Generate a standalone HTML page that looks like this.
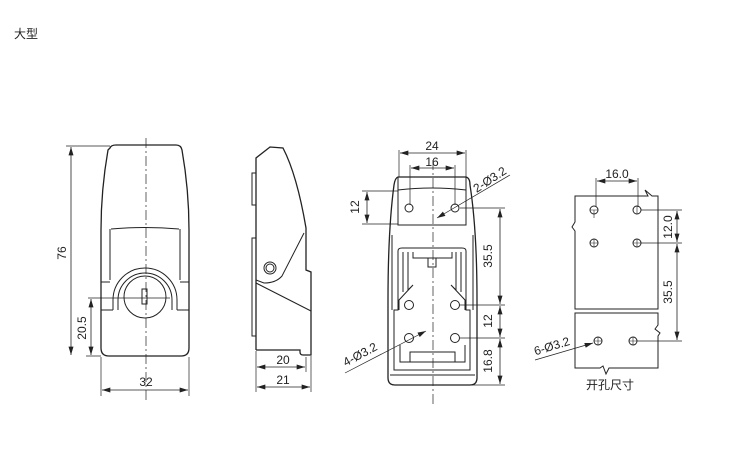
<!DOCTYPE html>
<html><head><meta charset="utf-8"><style>
html,body{margin:0;padding:0;background:#fff;}
svg{display:block}
text{font-family:"Liberation Sans","Noto Sans CJK SC",sans-serif;fill:#222;font-size:12px}
</style></head><body>
<svg width="734" height="460" viewBox="0 0 734 460" xmlns="http://www.w3.org/2000/svg">
<defs>
<marker id="a" viewBox="0 0 10 6" refX="10" refY="3" markerWidth="9" markerHeight="5" orient="auto-start-reverse" markerUnits="userSpaceOnUse"><path d="M0,0L10,3L0,6z" fill="#222"/></marker>
</defs>
<text x="14" y="38" font-size="16">大型</text>
<g fill="none" stroke="#222" stroke-width="1">
<!-- FRONT VIEW -->
<path d="M110,148 Q111,145 116,145 L176,145 Q181,145 182,150 Q189,190 189,230 L189,348 Q189,356 181,356 L109,356 Q101,356 101,348 L101,230 Q101,190 108,150 Z" stroke-width="1.3"/>
<path d="M110,229 L110,280 M180,229 L180,280 M111,229 Q145,226 179,229"/>
<path d="M101,282 L110,282 M180,282 L189,282 M101,310 L113,310 M177,310 L189,310"/>
<path d="M113,310 L113,300 A32,32 0 0 1 177,300 L177,310 M118,310 L118,300 A27,27 0 0 1 172,300 L172,310"/>
<circle cx="145" cy="297" r="21"/>
<rect x="142" y="289" width="5" height="15"/>
<path d="M146,138 L146,402" stroke-dasharray="10,3,2,3" stroke-width="0.7"/>
<path d="M88,298 L170,298" stroke-width="0.7"/>
<path d="M66,146 L110,146 M86,356 L101,356" stroke-width="0.7"/>
<path d="M71,147 L71,355" marker-start="url(#a)" marker-end="url(#a)" stroke-width="0.8"/>
<path d="M91,299 L91,355" marker-start="url(#a)" marker-end="url(#a)" stroke-width="0.8"/>
<path d="M101,357 L101,396 M189,357 L189,396" stroke-width="0.7"/>
<path d="M102,390 L188,390" marker-start="url(#a)" marker-end="url(#a)" stroke-width="0.8"/>
<!-- SIDE VIEW -->
<path d="M256,350 L256,158 L270,147 L283,148 Q297,175 306,228 L306,270 L311,272 L311,355 L303,355 Q300,355 300,352 L300,350 L256,350" stroke-width="1.3"/>
<path d="M252,173 L256,173 L256,205 L252,205 Z M252,238 L256,238 L256,336 L252,336 Z"/>
<path d="M304,233 L282,276 Q276,283 264,283 L256,280 M256,283 L311,311"/>
<circle cx="270" cy="268" r="6"/><circle cx="270" cy="268" r="4"/>
<path d="M256,351 L256,392 M306,357 L306,372 M311,356 L311,392" stroke-width="0.7"/>
<path d="M257,367 L305,367" marker-start="url(#a)" marker-end="url(#a)" stroke-width="0.8"/>
<path d="M257,387 L310,387" marker-start="url(#a)" marker-end="url(#a)" stroke-width="0.8"/>
<!-- BACK VIEW -->
<path d="M398,177 L466,177 Q470,178 470,185 Q477,230 477,300 L477,378 Q477,385 470,385 L395,385 Q388,385 388,378 L388,300 Q388,230 394,185 Q395,178 398,177 Z" stroke-width="1.3"/>
<path d="M398,177 L398,225 L466,225 L466,177 M398,190 Q432,186 466,190"/>
<path d="M392,235 L392,310 M473,235 L473,310"/>
<path d="M398,251 Q398,248 402,248 L462,248 Q466,248 466,251 L466,310 L470,310 L470,370 L394,370 L394,310 L398,310 Z"/>
<path d="M403,252 L403,292 M408,252 L408,290 L413,285 L399,300 L399,310 M456,252 L456,290 L451,285 L465,300 L465,310 M461,252 L461,292"/>
<path d="M413,252 L413,258 L452,258 L452,252 M428,258 L428,267 L436,267 L436,258"/>
<path d="M400,345 L400,362 L465,362 L465,345 M410,362 L410,352 L455,352 L455,362"/>
<path d="M390,375 L475,375"/>
<circle cx="409" cy="208" r="4"/><circle cx="455" cy="208" r="4"/>
<circle cx="409" cy="305" r="4.5"/><circle cx="455" cy="305" r="4.5"/>
<circle cx="409" cy="338" r="4.5"/><circle cx="455" cy="338" r="4.5"/>
<path d="M433,160 L433,405" stroke-dasharray="10,3,2,3" stroke-width="0.7"/>
<path d="M399,150 L399,177 M466,150 L466,177 M410,165 L410,205 M455,165 L455,205" stroke-width="0.7"/>
<path d="M400,153 L465,153" marker-start="url(#a)" marker-end="url(#a)" stroke-width="0.8"/>
<path d="M411,168 L454,168" marker-start="url(#a)" marker-end="url(#a)" stroke-width="0.8"/>
<path d="M362,191 L398,191 M362,224 L398,224" stroke-width="0.7"/>
<path d="M367,192 L367,223" marker-start="url(#a)" marker-end="url(#a)" stroke-width="0.8"/>
<path d="M460,208 L505,208 M460,305 L505,305 M460,338 L505,338 M470,385 L505,385" stroke-width="0.7"/>
<path d="M500,209 L500,304" marker-start="url(#a)" marker-end="url(#a)" stroke-width="0.8"/>
<path d="M500,306 L500,337" marker-start="url(#a)" marker-end="url(#a)" stroke-width="0.8"/>
<path d="M500,339 L500,384" marker-start="url(#a)" marker-end="url(#a)" stroke-width="0.8"/>
<path d="M437,218 L510,175" stroke-width="0.7" marker-start="url(#a)"/>
<path d="M426,331 L345,373" stroke-width="0.7" marker-start="url(#a)"/>
<!-- CUTOUT -->
<path d="M575,196 L648,196 L645,190 L652,196 L658,196 L658,309 L575,309 L575,231 L572,227 L575,222 Z"/>
<path d="M575,313 L658,313 L658,325 L655,329 L660,333 L658,336 L658,368 L609,368 L606,374 L603,366 L600,368 L575,368 Z"/>
<circle cx="594" cy="210" r="4"/><circle cx="637" cy="210" r="4"/>
<circle cx="594" cy="243" r="4"/><circle cx="637" cy="243" r="4"/>
<circle cx="598" cy="341" r="4"/><circle cx="633" cy="341" r="4"/>
<path d="M594,210 L594,218 M590,210 L598,210 M637,206 L637,214 M594,239 L594,247 M590,243 L598,243 M633,243 L641,243 M637,239 L637,247 M598,337 L598,345 M594,341 L602,341 M633,337 L633,345 M629,341 L637,341" stroke-width="0.6"/>
<path d="M596,178 L596,207 M638,178 L638,207" stroke-width="0.7"/>
<path d="M597,181 L637,181" marker-start="url(#a)" marker-end="url(#a)" stroke-width="0.8"/>
<path d="M641,210 L682,210 M641,243 L682,243 M637,341 L682,341" stroke-width="0.7"/>
<path d="M677,211 L677,242" marker-start="url(#a)" marker-end="url(#a)" stroke-width="0.8"/>
<path d="M677,244 L677,340" marker-start="url(#a)" marker-end="url(#a)" stroke-width="0.8"/>
<path d="M593,343 L535,360" stroke-width="0.7" marker-start="url(#a)"/>
</g>
<text x="66" y="253" text-anchor="middle" transform="rotate(-90 66 253)">76</text>
<text x="86" y="328" text-anchor="middle" transform="rotate(-90 86 328)">20.5</text>
<text x="146" y="386" text-anchor="middle">32</text>
<text x="283" y="364" text-anchor="middle">20</text>
<text x="283" y="384" text-anchor="middle">21</text>
<text x="432" y="150" text-anchor="middle">24</text>
<text x="432" y="166" text-anchor="middle">16</text>
<text x="359" y="207" text-anchor="middle" transform="rotate(-90 359 207)">12</text>
<text x="492" y="256" text-anchor="middle" transform="rotate(-90 492 256)">35.5</text>
<text x="492" y="321" text-anchor="middle" transform="rotate(-90 492 321)">12</text>
<text x="492" y="361" text-anchor="middle" transform="rotate(-90 492 361)">16.8</text>
<text x="492" y="183" text-anchor="middle" transform="rotate(-33 492 183)">2-Ø3.2</text>
<text x="362" y="358" text-anchor="middle" transform="rotate(-28 362 358)">4-Ø3.2</text>
<text x="617" y="178" text-anchor="middle">16.0</text>
<text x="672" y="227" text-anchor="middle" transform="rotate(-90 672 227)">12.0</text>
<text x="672" y="292" text-anchor="middle" transform="rotate(-90 672 292)">35.5</text>
<text x="553" y="350" text-anchor="middle" transform="rotate(-17 553 350)">6-Ø3.2</text>
<text x="610" y="389" text-anchor="middle">开孔尺寸</text>
</svg>
</body></html>
